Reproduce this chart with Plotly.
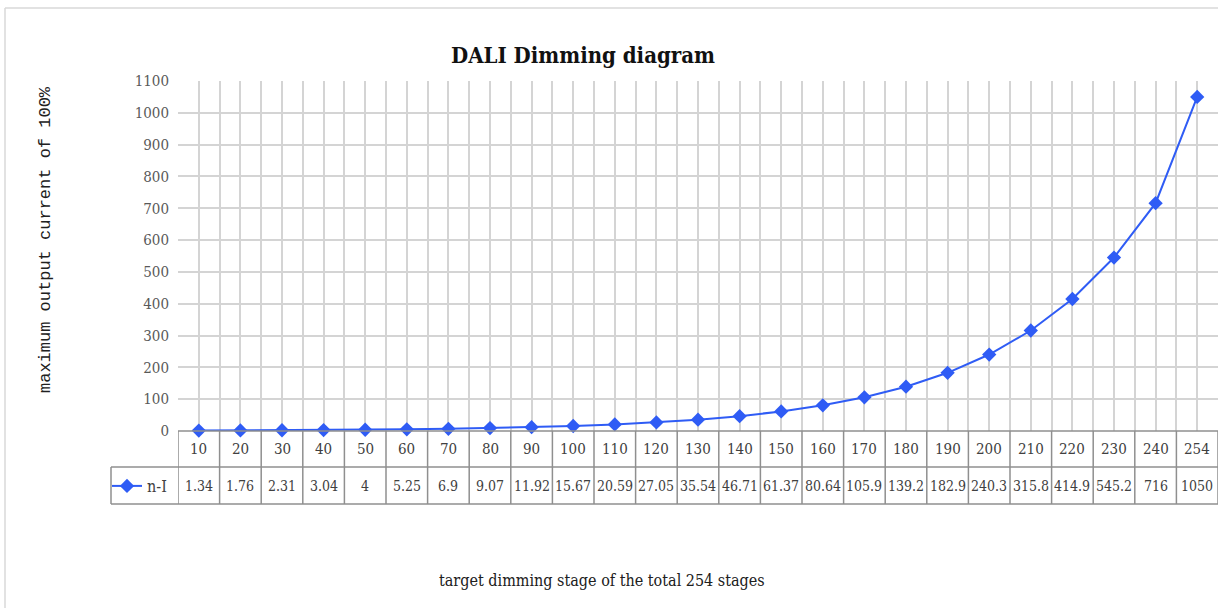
import plotly.graph_objects as go

stages = ["10", "20", "30", "40", "50", "60", "70", "80", "90", "100", "110", "120", "130",
          "140", "150", "160", "170", "180", "190", "200", "210", "220", "230", "240", "254"]
current = [1.34, 1.76, 2.31, 3.04, 4, 5.25, 6.9, 9.07, 11.92, 15.67, 20.59, 27.05, 35.54,
           46.71, 61.37, 80.64, 105.9, 139.2, 182.9, 240.3, 315.8, 414.9, 545.2, 716, 1050]
series_name = "n-I"
y_ticks = list(range(0, 1101, 100))

W, H = 1218, 608
L, R, T, B = 178, 0, 81, 177
plot_w = W - L - R
plot_h = H - T - B

def py(px):  # pixel y -> paper y
    return (H - B - px) / plot_h

def pxp(px):  # pixel x -> paper x
    return (px - L) / plot_w

SERIF = "DejaVu Serif Condensed, Liberation Serif"
BLUE = "#2f5cf5"
TABLE = "#8f8f8f"
GRID = "#d4d4d4"

xs = list(range(len(stages)))
n = len(stages)

fig = go.Figure()
fig.add_trace(go.Scatter(
    x=xs, y=current, mode="lines+markers", name=series_name,
    line=dict(color=BLUE, width=2),
    marker=dict(symbol="diamond", size=11, color=BLUE),
    cliponaxis=False,
))

shapes = []
row1_bot = py(467)
row2_bot = py(504)
shapes.append(dict(type="line", xref="x", yref="paper", x0=-0.5, x1=n - 0.5, y0=0, y1=0,
                   line=dict(color=TABLE, width=1.5)))
for yy in (row1_bot, row2_bot):
    shapes.append(dict(type="line", xref="paper", yref="paper", x0=pxp(111), x1=1.0,
                       y0=yy, y1=yy, line=dict(color=TABLE, width=1.5)))
for i in range(n + 1):
    shapes.append(dict(type="line", xref="x", yref="paper", x0=i - 0.5, x1=i - 0.5,
                       y0=0, y1=row2_bot, line=dict(color=TABLE, width=1.5)))
shapes.append(dict(type="line", xref="paper", yref="paper", x0=pxp(111), x1=pxp(111),
                   y0=row1_bot, y1=row2_bot, line=dict(color=TABLE, width=1.5)))
shapes.append(dict(type="line", xref="paper", yref="paper", x0=pxp(5), x1=pxp(1230),
                   y0=py(8), y1=py(8), line=dict(color="#d9d9d9", width=1.5)))
shapes.append(dict(type="line", xref="paper", yref="paper", x0=pxp(5), x1=pxp(5),
                   y0=py(8), y1=py(620), line=dict(color="#d9d9d9", width=1.5)))

annotations = []
for i, s in enumerate(stages):
    annotations.append(dict(x=i, xref="x", y=py(449), yref="paper", text=s, showarrow=False,
                            font=dict(family=SERIF, size=15, color="#404040"),
                            xanchor="center", yanchor="middle"))
for i, v in enumerate(current):
    annotations.append(dict(x=i, xref="x", y=py(486), yref="paper", text=f"{v:g}", showarrow=False,
                            font=dict(family=SERIF, size=14, color="#404040"),
                            xanchor="center", yanchor="middle"))
annotations.append(dict(x=pxp(45), xref="paper", y=py(240), yref="paper",
                        text="maximum output current of 100%", textangle=-90, showarrow=False,
                        font=dict(family="Liberation Mono", size=17, color="#202020"),
                        xanchor="center", yanchor="middle"))
annotations.append(dict(x=pxp(602), xref="paper", y=py(580), yref="paper",
                        text="target dimming stage of the total 254 stages", showarrow=False,
                        font=dict(family=SERIF, size=16, color="#202020"),
                        xanchor="center", yanchor="middle"))

fig.update_layout(
    width=W, height=H,
    margin=dict(l=L, r=R, t=T, b=B),
    paper_bgcolor="white", plot_bgcolor="white",
    title=dict(text="<b>DALI Dimming diagram</b>", xref="container", x=583 / W, xanchor="center",
               yref="container", y=1 - 55 / H, yanchor="middle",
               font=dict(family=SERIF, size=22, color="#111111")),
    xaxis=dict(range=[-0.5, n - 0.5], tick0=-0.5, dtick=0.5, showticklabels=False,
               showgrid=True, gridcolor=GRID, gridwidth=1.5, zeroline=False, ticks=""),
    yaxis=dict(range=[0, 1100], tickvals=y_ticks, showgrid=True, gridcolor=GRID, gridwidth=1.5,
               zeroline=False, tickfont=dict(family=SERIF, size=15, color="#595959"),
               ticks="", ticklabelstandoff=8),
    showlegend=True,
    legend=dict(x=pxp(107), y=py(486), xanchor="left", yanchor="middle", bgcolor="rgba(0,0,0,0)",
                font=dict(family=SERIF, size=16, color="#404040"), itemwidth=30,
                tracegroupgap=0),
    shapes=shapes,
    annotations=annotations,
)

fig.write_html("out.html", config={"displayModeBar": False},
               post_script="document.body.style.margin='0';document.body.style.overflow='hidden';")
